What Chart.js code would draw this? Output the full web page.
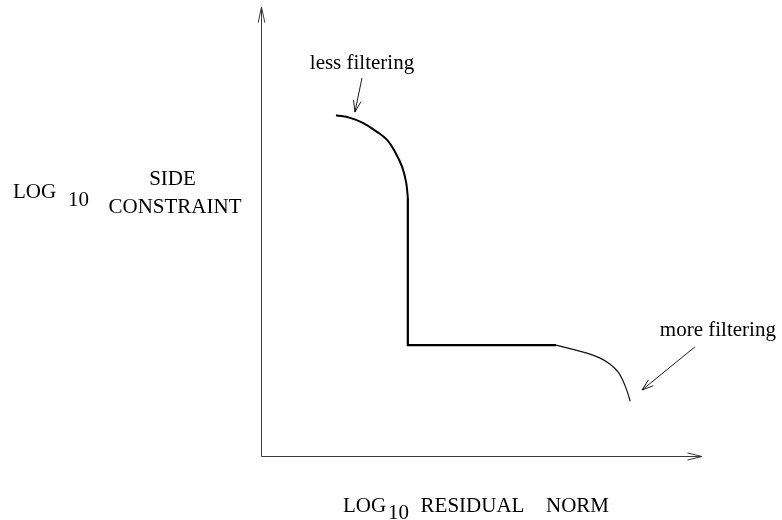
<!DOCTYPE html>
<html><head><meta charset="utf-8">
<script src="https://cdn.jsdelivr.net/npm/chart.js@4/dist/chart.umd.min.js"></script>
<style>html,body{margin:0;padding:0;background:#fff}canvas{display:block}</style>
</head><body>
<canvas id="c" width="782" height="520"></canvas>
<script>
// L-curve sketch: log10 side constraint against log10 residual norm (arbitrary units)
const highBranchX = [1.70, 2.02, 2.31, 2.63, 2.86, 3.04, 3.20, 3.29, 3.33];
const highBranchY = [7.59, 7.53, 7.42, 7.22, 7.04, 6.77, 6.44, 6.10, 5.75];
const cornerX = [3.33, 3.33, 6.69];
const cornerY = [5.75, 2.47, 2.47];
const tailX = [6.69, 7.05, 7.39, 7.69, 7.91, 8.10, 8.21, 8.30, 8.37];
const tailY = [2.47, 2.38, 2.29, 2.18, 2.05, 1.87, 1.67, 1.45, 1.22];
const rangeX = [0, 10];
const rangeY = [0, 10];

// callout labels and their arrows (data units)
const noteText  = ['less filtering', 'more filtering'];
const noteTextX = [2.29, 10.36];
const noteTextY = [8.62, 2.67];
const noteFromX = [2.29, 9.84];
const noteFromY = [8.42, 2.43];
const noteToX   = [2.13, 8.64];
const noteToY   = [7.66, 1.47];

const pts = (xs, ys) => xs.map((x, i) => ({x, y: ys[i]}));
const FONT = '21px "Liberation Serif", "DejaVu Serif", serif';

function arrowHead(ctx, fx, fy, tx, ty, len, ang) {
  const a = Math.atan2(ty - fy, tx - fx);
  ctx.beginPath();
  ctx.moveTo(tx - len * Math.cos(a - ang), ty - len * Math.sin(a - ang));
  ctx.lineTo(tx, ty);
  ctx.lineTo(tx - len * Math.cos(a + ang), ty - len * Math.sin(a + ang));
  ctx.stroke();
}

const sketchPlugin = {
  id: 'sketch',
  afterDraw(chart) {
    const {ctx, chartArea: ca, scales: {x, y}} = chart;
    ctx.save();
    // axes with open arrowheads
    ctx.strokeStyle = '#3a3a3a';
    ctx.lineWidth = 1;
    const ax = Math.round(ca.left) + 0.5, ay = Math.round(ca.bottom) + 0.5;
    ctx.beginPath();
    ctx.moveTo(ax, ca.top);
    ctx.lineTo(ax, ay);
    ctx.lineTo(ca.right, ay);
    ctx.stroke();
    arrowHead(ctx, ax, ay, ax, ca.top, 16, 0.21);
    arrowHead(ctx, ax, ay, ca.right, ay, 15, 0.24);

    // callouts
    ctx.strokeStyle = '#000';
    ctx.fillStyle = '#000';
    ctx.font = FONT;
    ctx.textAlign = 'center';
    ctx.textBaseline = 'alphabetic';
    noteText.forEach((t, i) => {
      ctx.fillText(t, x.getPixelForValue(noteTextX[i]), y.getPixelForValue(noteTextY[i]));
      const fx = x.getPixelForValue(noteFromX[i]), fy = y.getPixelForValue(noteFromY[i]);
      const tx = x.getPixelForValue(noteToX[i]), ty = y.getPixelForValue(noteToY[i]);
      ctx.lineWidth = 0.9;
      ctx.beginPath(); ctx.moveTo(fx, fy); ctx.lineTo(tx, ty); ctx.stroke();
      arrowHead(ctx, fx, fy, tx, ty, 12, 0.32);
    });

    // axis titles
    const L = ca.left, B = ca.bottom;
    ctx.textAlign = 'left';
    ctx.fillText('LOG', L - 248, 198);
    ctx.fillText('10', L - 193, 206);
    ctx.textAlign = 'center';
    ctx.fillText('SIDE', L - 88.5, 185);
    ctx.fillText('CONSTRAINT', L - 86, 213);
    ctx.textAlign = 'left';
    ctx.fillText('LOG', 343, B + 56);
    ctx.fillText('10', 388, B + 63);
    ctx.textAlign = 'center';
    ctx.fillText('RESIDUAL', 472.5, B + 56);
    ctx.fillText('NORM', 577.5, B + 56);
    ctx.restore();
  }
};

new Chart(document.getElementById('c'), {
  type: 'scatter',
  data: {
    datasets: [
      {data: pts(highBranchX, highBranchY), showLine: true, borderColor: '#000', borderWidth: 2, tension: 0.4, pointRadius: 0},
      {data: pts(cornerX, cornerY), showLine: true, borderColor: '#000', borderWidth: 2.2, tension: 0, pointRadius: 0},
      {data: pts(tailX, tailY), showLine: true, borderColor: '#111', borderWidth: 1.2, tension: 0.4, pointRadius: 0}
    ]
  },
  options: {
    responsive: false,
    animation: false,
    layout: {padding: {left: 261, right: 80, top: 7, bottom: 64}},
    plugins: {legend: {display: false}, tooltip: {enabled: false}},
    scales: {
      x: {type: 'linear', min: rangeX[0], max: rangeX[1], display: false},
      y: {type: 'linear', min: rangeY[0], max: rangeY[1], display: false}
    }
  },
  plugins: [sketchPlugin]
});
</script>
</body></html>
